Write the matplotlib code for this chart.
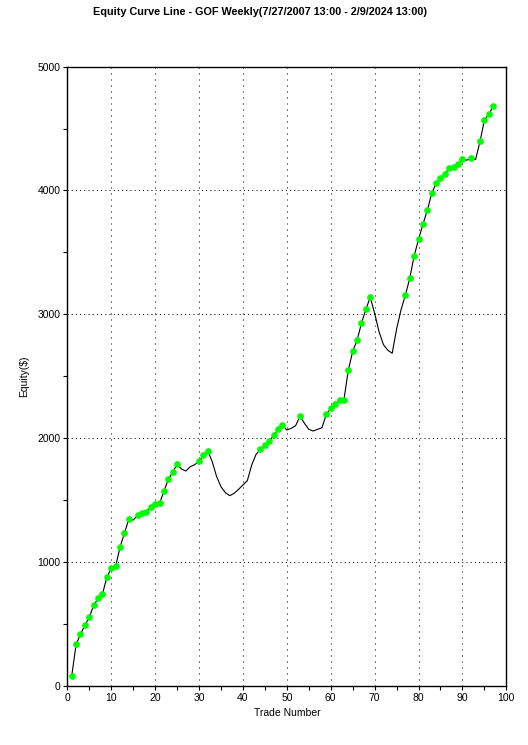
import numpy as np
import matplotlib
matplotlib.use("Agg")
import matplotlib.pyplot as plt
from matplotlib.ticker import MultipleLocator

plt.rcParams['font.family'] = ['Liberation Sans', 'DejaVu Sans']

title = "Equity Curve Line - GOF Weekly(7/27/2007 13:00 - 2/9/2024 13:00)"

# equity after each trade
equity = [
    78, 334, 415, 488, 552, 649, 706, 738, 876, 948,
    964, 1118, 1231, 1344, 1338, 1376, 1398, 1403, 1441, 1465,
    1473, 1570, 1667, 1724, 1790, 1750, 1734, 1769, 1785, 1812,
    1861, 1895, 1810, 1690, 1607, 1559, 1535, 1554, 1586, 1621,
    1656, 1783, 1869, 1910, 1944, 1974, 2022, 2071, 2104, 2065,
    2079, 2100, 2177, 2120, 2071, 2057, 2071, 2084, 2192, 2241,
    2273, 2305, 2310, 2548, 2701, 2790, 2927, 3041, 3136, 3008,
    2859, 2755, 2710, 2685, 2881, 3035, 3155, 3291, 3471, 3606,
    3727, 3840, 3977, 4058, 4098, 4131, 4184, 4190, 4212, 4252,
    4245, 4260, 4250, 4397, 4567, 4615, 4680,
]
trades = np.arange(1, len(equity) + 1)
eq = np.array(equity)
# green dots mark new equity highs
prev_max = np.maximum.accumulate(np.concatenate(([0], eq[:-1])))
new_high = eq > prev_max

fig = plt.figure(figsize=(5.28, 7.45), dpi=100)
ax = fig.add_axes([0.1275, 0.0796, 0.8315, 0.8309])

ax.plot(trades, eq, color="black", lw=0.8, zorder=3)
ax.plot(trades[new_high], eq[new_high], "o", color="#00ff00", ms=3.8, mec="#00ff00", zorder=4)

ax.set_xlim(0, 100)
ax.set_ylim(0, 5000)
ax.xaxis.set_major_locator(MultipleLocator(10))
ax.xaxis.set_minor_locator(MultipleLocator(5))
ax.yaxis.set_major_locator(MultipleLocator(1000))
ax.yaxis.set_minor_locator(MultipleLocator(500))
ax.tick_params(which="both", direction="out", length=3, width=0.8, labelsize=7.5, pad=2)
ax.xaxis.grid(True, which="major", color="black", lw=0.72, linestyle=(0, (1, 5)))
ax.yaxis.grid(True, which="major", color="black", lw=0.72, linestyle=(0, (1, 3.2)))
for s in ax.spines.values():
    s.set_linewidth(1.0)

ax.set_xlabel("Trade Number", fontsize=7.5, labelpad=4)
ax.set_ylabel("Equity($)", fontsize=7.5, labelpad=6)
fig.suptitle(title, x=0.493, y=0.9835, fontsize=7.8, fontweight="bold", va="center")

fig.savefig("out.png", dpi=100)
